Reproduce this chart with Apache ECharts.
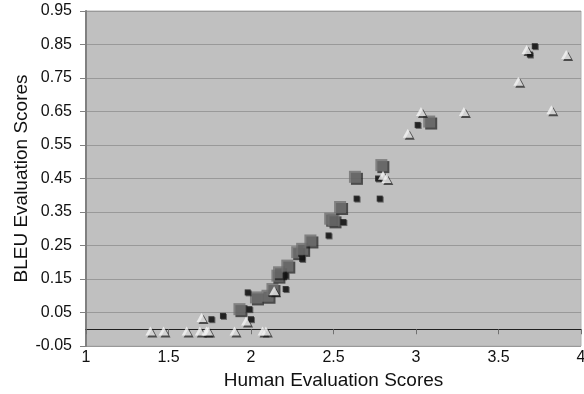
<!DOCTYPE html>
<html>
<head>
<meta charset="utf-8">
<script src="https://cdn.jsdelivr.net/npm/echarts@6/dist/echarts.min.js"></script>
<style>html,body{margin:0;padding:0;background:#fff}#c{width:584px;height:394px}</style>
</head>
<body>
<div id="c"></div>
<script>
// Human score vs BLEU score
var graySquares = [
  [1.93, 0.06], [2.03, 0.095], [2.10, 0.10], [2.13, 0.12], [2.16, 0.16],
  [2.17, 0.17], [2.22, 0.19], [2.28, 0.23], [2.31, 0.24], [2.36, 0.265],
  [2.48, 0.33], [2.50, 0.325], [2.54, 0.365], [2.63, 0.455], [2.79, 0.49],
  [3.08, 0.62]
];
var blackSquares = [
  [1.76, 0.03], [1.83, 0.04], [1.98, 0.11], [1.99, 0.06], [2.00, 0.03],
  [2.21, 0.12], [2.21, 0.16], [2.31, 0.21], [2.47, 0.28], [2.56, 0.32],
  [2.64, 0.39], [2.78, 0.39], [2.77, 0.45], [3.01, 0.61], [3.69, 0.82],
  [3.72, 0.845]
];
var triangles = [
  [1.39, -0.005], [1.47, -0.005], [1.61, -0.005], [1.70, 0.035], [1.69, -0.005],
  [1.73, -0.005], [1.74, -0.005], [1.90, -0.005], [1.97, 0.025], [2.07, -0.005],
  [2.09, -0.005], [2.14, 0.115], [2.80, 0.46], [2.82, 0.45], [2.95, 0.585],
  [3.03, 0.65], [3.29, 0.65], [3.62, 0.74], [3.67, 0.835], [3.82, 0.655],
  [3.91, 0.82]
];
var xTitle = 'Human Evaluation Scores';
var yTitle = 'BLEU Evaluation Scores';

var FONT = '"Liberation Sans", Arial, sans-serif';
var chart = echarts.init(document.getElementById('c'), null, {renderer: 'canvas'});
chart.setOption({
  animation: false,
  backgroundColor: '#ffffff',
  grid: {left: 86, top: 11, width: 495, height: 335, show: true, containLabel: false,
         outerBoundsMode: 'none',
         backgroundColor: '#c0c0c0', borderColor: '#b0b0b0', borderWidth: 1},
  xAxis: [{
    type: 'value', min: 1, max: 4, interval: 0.5, position: 'bottom',
    axisLine: {show: false, onZero: false},
    axisTick: {show: false},
    splitLine: {show: false},
    axisLabel: {color: '#111', fontFamily: FONT, fontSize: 16, margin: 4,
                formatter: function (v) { return String(+v.toFixed(1)); }},
    name: xTitle, nameLocation: 'middle', nameGap: 24,
    nameTextStyle: {color: '#111', fontFamily: FONT, fontSize: 19}
  }, {
    type: 'value', min: 1, max: 4, interval: 0.5, position: 'bottom',
    axisLine: {show: true, onZero: true, onZeroAxisIndex: 0, lineStyle: {color: '#202020', width: 1}},
    axisTick: {show: true, inside: false, length: 5, lineStyle: {color: '#707070'}},
    axisLabel: {show: false},
    splitLine: {show: false}
  }],
  yAxis: {
    type: 'value', min: -0.05, max: 0.95, interval: 0.1,
    axisLine: {show: true, onZero: false, lineStyle: {color: '#808080', width: 2}},
    axisTick: {show: true, length: 6, lineStyle: {color: '#808080'}},
    splitLine: {show: true, lineStyle: {color: '#999999', width: 1}},
    axisLabel: {color: '#111', fontFamily: FONT, fontSize: 16, margin: 14,
                formatter: function (v) { return v.toFixed(2); }},
    name: yTitle, nameLocation: 'middle', nameGap: 55, nameMoveOverlap: false,
    nameTextStyle: {color: '#111', fontFamily: FONT, fontSize: 19}
  },
  series: [{
    type: 'scatter', data: graySquares, symbol: 'rect', symbolSize: 12,
    xAxisIndex: 0,
    itemStyle: {color: '#707070', shadowColor: 'rgba(20,20,20,0.85)', shadowBlur: 0, shadowOffsetX: 2, shadowOffsetY: 2}
  }, {
    type: 'scatter', data: blackSquares, symbol: 'rect', symbolSize: 6,
    xAxisIndex: 0,
    itemStyle: {color: '#111111', shadowColor: 'rgba(0,0,0,0.6)', shadowBlur: 0, shadowOffsetX: 1, shadowOffsetY: 1}
  }, {
    type: 'scatter', data: triangles, symbol: 'triangle', symbolSize: [10, 9],
    xAxisIndex: 0,
    itemStyle: {color: '#f4f4f4', shadowColor: 'rgba(20,20,20,0.85)', shadowBlur: 0, shadowOffsetX: 2, shadowOffsetY: 2}
  }]
});
</script>
</body>
</html>
